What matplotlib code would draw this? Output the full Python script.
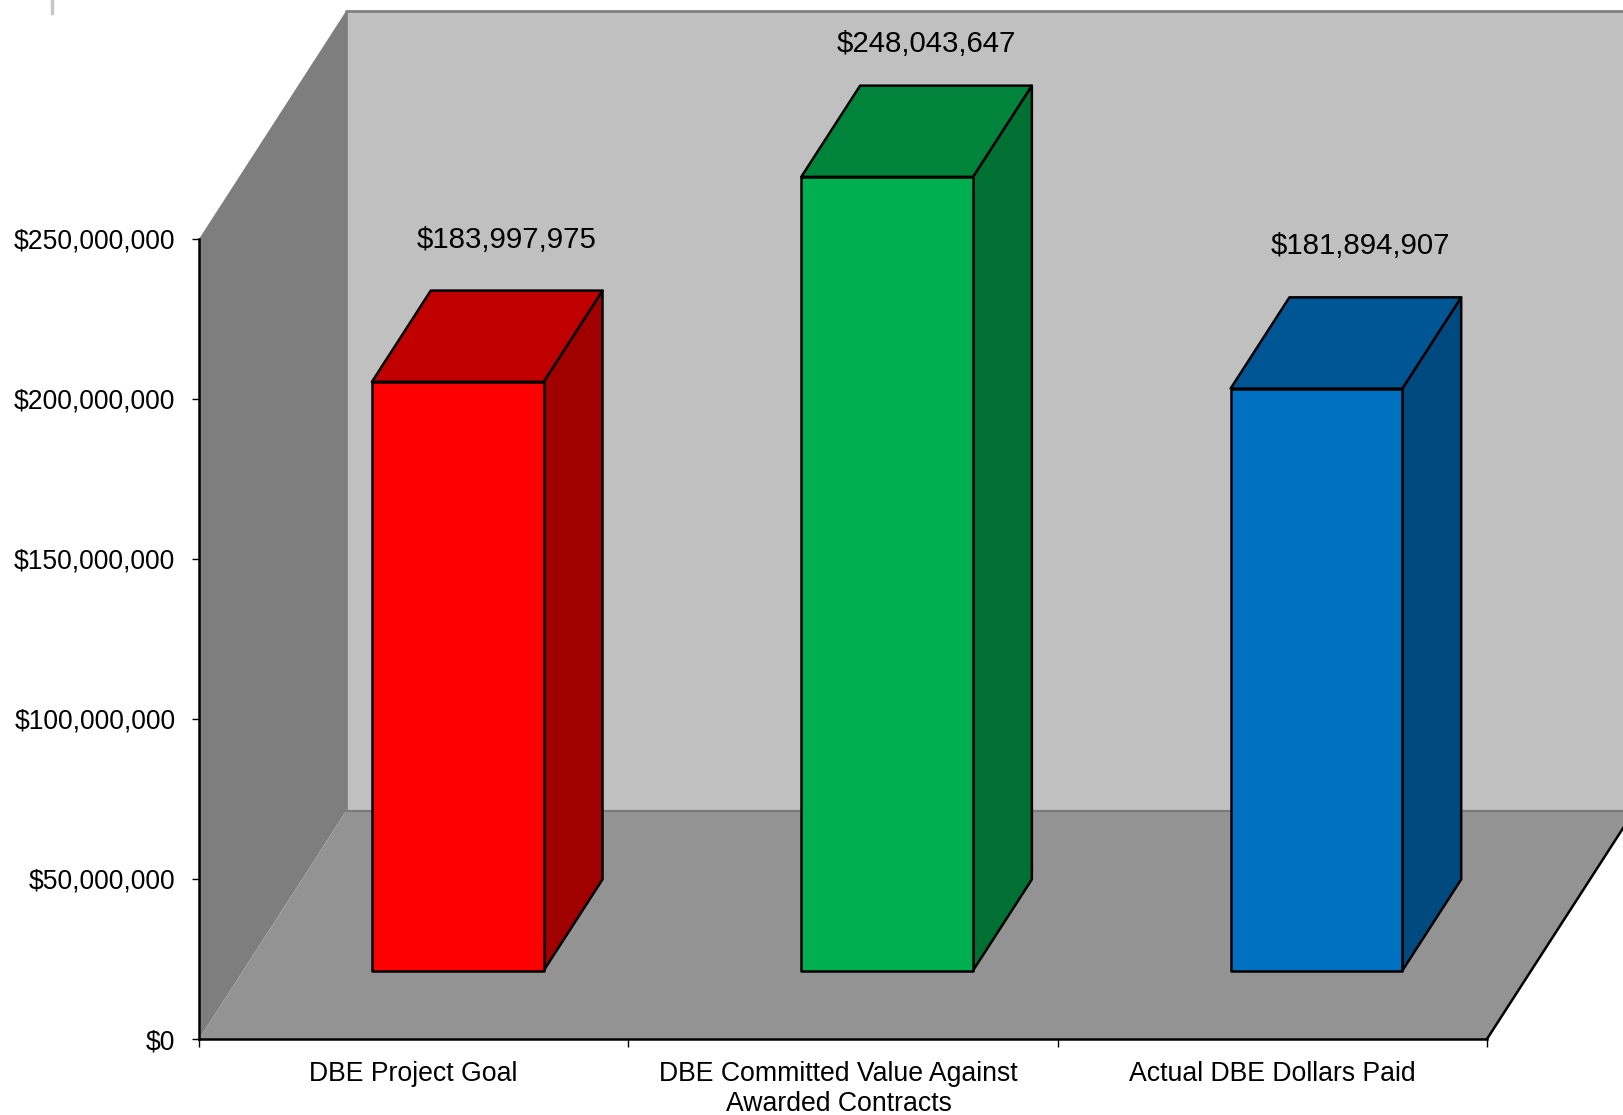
import matplotlib
matplotlib.use("Agg")
import matplotlib.pyplot as plt
from matplotlib.patches import Polygon
from matplotlib.lines import Line2D
from matplotlib.transforms import ScaledTranslation

plt.rcParams['font.family'] = ['Liberation Sans', 'DejaVu Sans']

categories = ["DBE Project Goal", "DBE Committed Value Against\nAwarded Contracts", "Actual DBE Dollars Paid"]
values = [183997975, 248043647, 181894907]
y_ticks = [0, 50000000, 100000000, 150000000, 200000000, 250000000]

front_colors = ["#FF0000", "#00B050", "#0070C0"]
top_colors = ["#C00000", "#00843C", "#005595"]
side_colors = ["#A00000", "#007033", "#004A80"]
# nudges of the value labels from the top of each bar, in pixels
label_offsets = [(49, 142), (39, 133), (44, 143)]

W, H = 1623, 1115
fig = plt.figure(figsize=(W / 100, H / 100), dpi=100)
ax = fig.add_axes([199 / W, (H - 1039) / H, (1487 - 199) / W, 800 / H])
ax.set_xlim(0, 3)
ax.set_ylim(0, 250000000)

# oblique depth: one full unit of depth moves this far on the x and y scales
DEPTH_X = 147 / 429
DEPTH_Y = 228 / 3.2 * 1e6


def proj(x, y, d):
    return (x + d * DEPTH_X, y + d * DEPTH_Y)


def face(pts, color, edge="black", lw=1.8, z=1):
    ax.add_patch(Polygon([proj(*p) for p in pts], closed=True, facecolor=color, edgecolor=edge,
                         linewidth=lw, clip_on=False, zorder=z, joinstyle="round"))


top = y_ticks[-1]
# walls and floor
face([(0, 0, 1), (3, 0, 1), (3, top, 1), (0, top, 1)], "#C0C0C0", edge="#808080", lw=2, z=1)
face([(0, 0, 0), (0, top, 0), (0, top, 1), (0, 0, 1)], "#7E7E7E", edge="none", lw=0, z=1.1)
face([(0, 0, 0), (3, 0, 0), (3, 0, 1), (0, 0, 1)], "#939393", edge="none", lw=0, z=1.2)
x0, y0 = proj(3, 0, 0)
x1, y1 = proj(3, 0, 1)
ax.add_line(Line2D([DEPTH_X, 3 + DEPTH_X], [DEPTH_Y, DEPTH_Y], color="#7A7A7A", lw=1.5,
                   zorder=1.3, clip_on=False))
ax.add_line(Line2D([x0, x1], [y0, y1], color="black", lw=1.8, zorder=1.3, clip_on=False))

# bars
bar_w = 0.4
d0, d1 = 0.3, 0.7
for i, v in enumerate(values):
    xl = i + 0.5 - bar_w / 2
    xr = i + 0.5 + bar_w / 2
    face([(xr, 0, d0), (xr, 0, d1), (xr, v, d1), (xr, v, d0)], side_colors[i], z=2 + i)
    face([(xl, v, d0), (xr, v, d0), (xr, v, d1), (xl, v, d1)], top_colors[i], z=2 + i)
    face([(xl, 0, d0), (xr, 0, d0), (xr, v, d0), (xl, v, d0)], front_colors[i], z=2 + i)
    ax.annotate("${:,}".format(v), xy=proj(i + 0.5, v, d0), xycoords="data",
                xytext=(label_offsets[i][0] * 0.72, label_offsets[i][1] * 0.72), textcoords="offset points",
                ha="center", va="center", fontsize=21.2, color="black", annotation_clip=False, zorder=10)

# axes
ax.patch.set_visible(False)
for s in ["top", "right"]:
    ax.spines[s].set_visible(False)
for s in ["left", "bottom"]:
    ax.spines[s].set_linewidth(1.8)
    ax.spines[s].set_color("black")
    ax.spines[s].set_zorder(6)
ax.set_yticks(y_ticks)
ax.set_yticklabels(["${:,}".format(t) for t in y_ticks], fontsize=19.1)
ax.set_xticks([0, 1, 2, 3])
ax.set_xticklabels([])
ax.set_xticks([0.5, 1.5, 2.5], minor=True)
ax.set_xticklabels(categories, minor=True, fontsize=19.2, linespacing=1.2)
ax.tick_params(axis="y", length=5, width=1, pad=12)
ax.tick_params(axis="x", which="major", length=6, width=1)
ax.tick_params(axis="x", which="minor", length=0, pad=15.5)

# the middle label sits a little left of its slot
lab = ax.get_xticklabels(minor=True)[1]
lab.set_transform(lab.get_transform() + ScaledTranslation(-4.5 / 100, 0, fig.dpi_scale_trans))

# small grey smudge in the top left corner of the source image
fig.add_artist(Line2D([52 / W, 52 / W], [1, (H - 13) / H], color="#B0B0B0", lw=2.5, alpha=0.7))

fig.savefig("out.png", dpi=100)
